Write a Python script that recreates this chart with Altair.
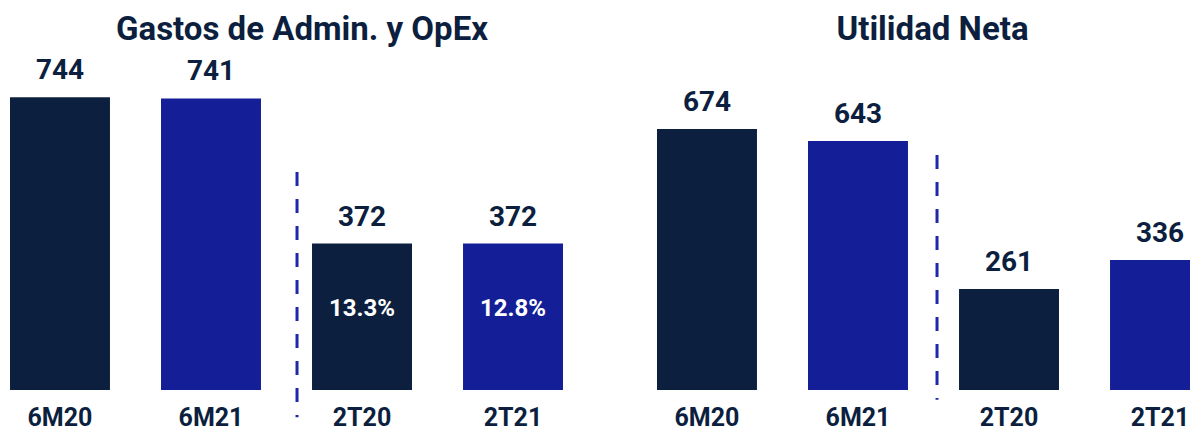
import altair as alt
import pandas as pd

# ---- data ----
categories = ["6M20", "6M21", "2T20", "2T21"]
periods = ["2020", "2021", "2020", "2021"]
gastos_values = [744, 741, 372, 372]
gastos_pct = ["", "", "13.3%", "12.8%"]
utilidad_values = [674, 643, 261, 336]
utilidad_pct = ["", "", "", ""]
panel_titles = ["Gastos de Admin. y OpEx", "Utilidad Neta"]

DARK = "#0c1f3e"
BLUE = "#141e97"
SEP = "#1e28a8"
FONT = "Roboto"


def panel(values, pct, title, width, ymax, sep_top, sep_bottom, sep_shift, title_dx):
    df = pd.DataFrame({"cat": categories, "period": periods,
                       "value": values, "pct": pct})
    xscale = alt.Scale(domain=categories, paddingInner=0.338,
                       paddingOuter=0, range=[0, 553])
    x = alt.X("cat:N", scale=xscale,
              axis=alt.Axis(title=None, labelAngle=0, domain=False, ticks=False,
                            grid=False, labelPadding=15, labelFontSize=25,
                            labelFont=FONT, labelFontWeight="bold",
                            labelColor=DARK))
    y = alt.Y("value:Q", scale=alt.Scale(domain=[0, ymax], nice=False),
              axis=None)
    base = alt.Chart(df).encode(x=x, y=y)
    bars = base.mark_bar(clip=True).encode(
        color=alt.Color("period:N",
                        scale=alt.Scale(domain=["2020", "2021"],
                                        range=[DARK, BLUE]),
                        legend=None))
    labels = base.mark_text(font=FONT, fontWeight="bold", fontSize=28,
                            color=DARK, baseline="alphabetic", dy=-18
                            ).encode(text="value:Q")
    pcts = base.mark_text(font=FONT, fontWeight="bold", fontSize=24,
                          color="white", baseline="alphabetic", dy=72
                          ).encode(text="pct:N")
    sep = alt.Chart(pd.DataFrame({"cat": ["2T20"]})).mark_rule(
        strokeDash=[14, 13], strokeWidth=3, color=SEP
    ).encode(
        x=alt.X("cat:N", scale=xscale, bandPosition=0),
        xOffset=alt.value(sep_shift),
        y=alt.datum(sep_top),
        y2=alt.datum(sep_bottom),
    )
    return alt.layer(bars, labels, pcts, sep).properties(
        width=width, height=340,
        title=alt.TitleParams(title, font=FONT, fontSize=33, fontWeight="bold",
                              color=DARK, anchor="middle", frame="group",
                              baseline="alphabetic", offset=-23, dx=title_dx),
    )


left = panel(gastos_values, gastos_pct, panel_titles[0], 553, 864,
             554, -69, -15, 15.5)
right = panel(utilidad_values, utilidad_pct, panel_titles[1], 533, 878,
              607, -25, -22, 9)

chart = alt.hconcat(left, right, spacing=94).properties(
    autosize=alt.AutoSizeParams(type="none"),
    padding={"left": 2, "top": 42, "right": 1180, "bottom": 376},
    background="white",
).configure_view(stroke=None)

chart.save("out.html", embed_options={"renderer": "svg", "actions": False})
